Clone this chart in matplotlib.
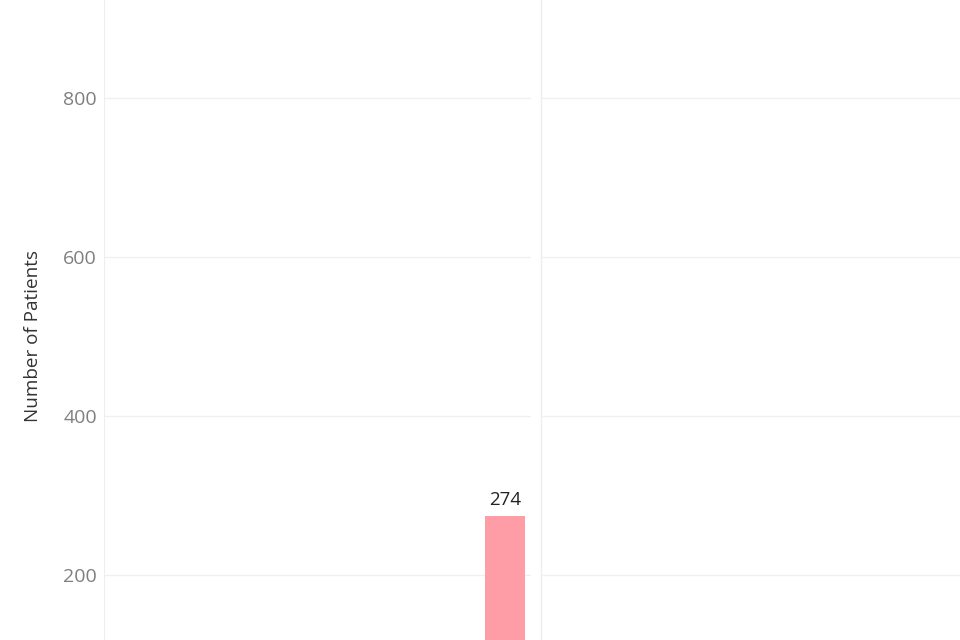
import matplotlib
matplotlib.use("Agg")
import matplotlib.pyplot as plt
from matplotlib.lines import Line2D

categories = ["A"]
values = [274]
yticks = [200, 400, 600, 800]
bar_color = "#FF9DA7"

plt.rcParams['font.family'] = ['Open Sans', 'DejaVu Sans']

fig = plt.figure(figsize=(9.6, 6.4), dpi=100)
W, H = 960, 640
bottom = (H - 734) / H
height = 734 / H
axL = fig.add_axes([104 / W, bottom, (531 - 104) / W, height])
axR = fig.add_axes([542 / W, bottom, (960 - 542) / W, height])

grid_c = "#f0f0f0"
for ax in (axL, axR):
    ax.set_ylim(0, 923.3)
    ax.set_yticks(yticks)
    ax.grid(axis='y', color=grid_c, linewidth=1)
    ax.set_axisbelow(True)
    for s in ax.spines.values():
        s.set_visible(False)
    ax.tick_params(length=0)
    ax.set_xticks([])
    ax.patch.set_alpha(0)

axL.spines['left'].set_visible(True)
axL.spines['left'].set_color("#eeeeee")
axL.tick_params(axis='y', labelsize=14, labelcolor="#7f7f7f", pad=5)
axR.set_yticklabels([])

x = list(range(len(categories)))
axL.bar(x, values, width=0.8, color=bar_color)
axL.set_xlim(-8.02, 0.52)
for xi, v in zip(x, values):
    axL.annotate(str(v), (xi, v), xytext=(0, 5), textcoords='offset points',
                 ha='center', va='bottom', fontsize=13.5, color="#222222")

axL.set_ylabel("Number of Patients", fontsize=13.6, color="#333333")
axL.yaxis.set_label_coords((42 - 104) / 427, (734 - 336) / 734)

fig.add_artist(Line2D([540.5 / W, 540.5 / W], [0, 1], color="#eeeeee", linewidth=1,
                      transform=fig.transFigure))

fig.savefig("out.png", dpi=100)
